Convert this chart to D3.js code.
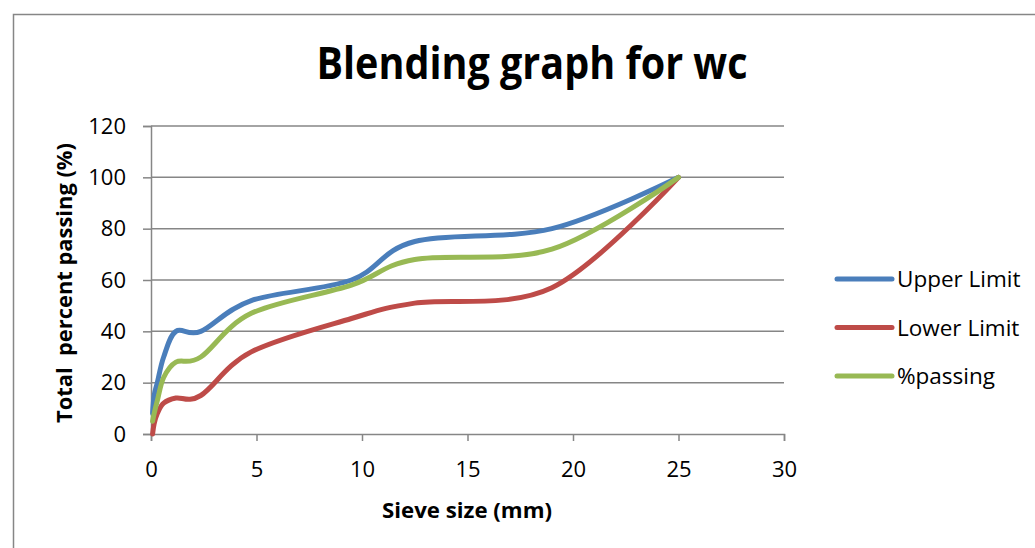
<!DOCTYPE html>
<html>
<head>
<meta charset="utf-8">
<script src="https://cdn.jsdelivr.net/npm/d3@7"></script>
<style>
  body { margin: 0; background: #fff; }
  text { font-family: "Open Sans", sans-serif; fill: #000; }
</style>
</head>
<body>
<svg width="1035" height="548"></svg>
<script>
// Data
var sieveSizes = [0.075, 0.15, 0.3, 0.6, 1.18, 2.36, 4.75, 9.5, 12.5, 19, 25];
var upperLimit = [8, 15, 20, 30, 40, 40, 52, 60, 75, 80, 100];
var lowerLimit = [0, 4, 8, 12, 14, 15, 32, 45, 51, 57, 100];
var passing = [5, 8, 13, 22, 28, 30, 47, 58, 68, 72, 100];
var seriesNames = ['Upper Limit', 'Lower Limit', '%passing'];
var xTicks = [0, 5, 10, 15, 20, 25, 30];
var yTicks = [0, 20, 40, 60, 80, 100, 120];

var colors = ['#4a7ebb', '#be4b48', '#98b954'];
var series = [upperLimit, lowerLimit, passing];

var svg = d3.select('svg');

// chart border
svg.append('path')
  .attr('d', 'M13.5,548 V14.5 H1035')
  .attr('fill', 'none')
  .attr('stroke', '#868686')
  .attr('stroke-width', 1.5);

var x = d3.scaleLinear().domain([0, 30]).range([151, 784]);
var y = d3.scaleLinear().domain([0, 120]).range([434, 126]);

// gridlines
svg.append('g')
  .selectAll('line')
  .data(yTicks.slice(1))
  .enter().append('line')
  .attr('x1', x(0)).attr('x2', x(30))
  .attr('y1', function (d) { return y(d); })
  .attr('y2', function (d) { return y(d); })
  .attr('stroke', '#868686')
  .attr('stroke-width', 1.5);

// axes
var xAxis = svg.append('g')
  .attr('transform', 'translate(0,' + y(0) + ')')
  .call(d3.axisBottom(x).tickValues(xTicks).tickSize(7).tickPadding(20).tickFormat(d3.format('d')));
var yAxis = svg.append('g')
  .attr('transform', 'translate(' + x(0) + ',0)')
  .call(d3.axisLeft(y).tickValues(yTicks).tickSize(8).tickPadding(17).tickFormat(d3.format('d')));

[xAxis, yAxis].forEach(function (a) {
  a.select('.domain').attr('stroke', '#868686').attr('stroke-width', 1.5);
  a.selectAll('.tick line').attr('stroke', '#868686').attr('stroke-width', 1.5);
  a.selectAll('.tick text')
    .style('font-family', '"Open Sans", sans-serif')
    .style('font-size', '22px')
    .attr('fill', '#000');
});

// lines
var line = d3.line()
  .x(function (d) { return x(d[0]); })
  .y(function (d) { return y(d[1]); })
  .curve(d3.curveCardinal.tension(0));

svg.append('g')
  .selectAll('path')
  .data(series)
  .enter().append('path')
  .attr('d', function (vals) {
    return line(vals.map(function (v, i) { return [sieveSizes[i], v]; }));
  })
  .attr('fill', 'none')
  .attr('stroke', function (d, i) { return colors[i]; })
  .attr('stroke-width', 5)
  .attr('stroke-linejoin', 'round')
  .attr('stroke-linecap', 'round');

// title
svg.append('text')
  .attr('x', 532).attr('y', 79)
  .attr('text-anchor', 'middle')
  .attr('textLength', 431)
  .attr('lengthAdjust', 'spacingAndGlyphs')
  .style('font-size', '45px')
  .style('font-weight', 'bold')
  .text('Blending graph for wc');

// axis titles
svg.append('text')
  .attr('x', 467).attr('y', 518)
  .attr('text-anchor', 'middle')
  .attr('textLength', 170)
  .attr('lengthAdjust', 'spacingAndGlyphs')
  .style('font-size', '21px')
  .style('font-weight', 'bold')
  .text('Sieve size (mm)');

svg.append('text')
  .attr('transform', 'translate(72,283) rotate(-90)')
  .attr('text-anchor', 'middle')
  .attr('textLength', 280)
  .attr('lengthAdjust', 'spacingAndGlyphs')
  .style('font-size', '21px')
  .style('font-weight', 'bold')
  .style('white-space', 'pre')
  .text('Total  percent passing (%)');

// legend
var legend = svg.append('g')
  .selectAll('g')
  .data(seriesNames)
  .enter().append('g')
  .attr('transform', function (d, i) { return 'translate(837,' + (279 + i * 48.5) + ')'; });

legend.append('line')
  .attr('x1', 0).attr('x2', 55)
  .attr('stroke', function (d, i) { return colors[i]; })
  .attr('stroke-width', 5)
  .attr('stroke-linecap', 'round');

legend.append('text')
  .attr('x', 60).attr('y', 8)
  .style('font-size', '22.5px')
  .text(function (d) { return d; });
</script>
</body>
</html>
